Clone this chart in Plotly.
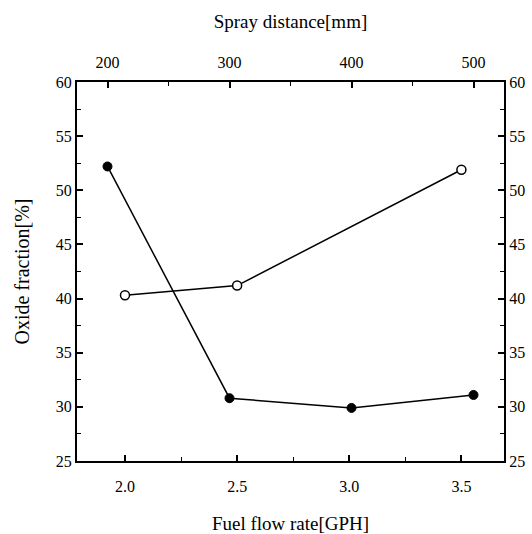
import plotly.graph_objects as go

# Data
spray_distance = [200, 300, 400, 500]          # mm (top axis)
oxide_vs_distance = [52.2, 30.8, 29.9, 31.1]   # filled circles
fuel_flow = [2.0, 2.5, 3.5]                    # GPH (bottom axis)
oxide_vs_flow = [40.3, 41.2, 51.9]             # open circles

y_ticks = [25, 30, 35, 40, 45, 50, 55, 60]
x_ticks = [2.0, 2.5, 3.0, 3.5]
x_ticklabels = ["2.0", "2.5", "3.0", "3.5"]
top_ticks = [200, 300, 400, 500]

FONT = "Liberation Serif"

fig = go.Figure()
fig.add_trace(go.Scatter(
    x=spray_distance, y=oxide_vs_distance, xaxis="x2", yaxis="y",
    mode="lines+markers",
    line=dict(color="black", width=1.5),
    marker=dict(symbol="circle", size=9, color="black", line=dict(color="black", width=1)),
    showlegend=False,
))
fig.add_trace(go.Scatter(
    x=fuel_flow, y=oxide_vs_flow, xaxis="x", yaxis="y",
    mode="lines+markers",
    line=dict(color="black", width=1.5),
    marker=dict(symbol="circle", size=9, color="white", line=dict(color="black", width=1.5)),
    showlegend=False,
))
# dummy trace to activate right axis
fig.add_trace(go.Scatter(x=[None], y=[None], xaxis="x", yaxis="y2", showlegend=False, hoverinfo="skip"))

common = dict(
    showgrid=False, zeroline=False, showline=True, linecolor="black", linewidth=2,
    ticks="inside", ticklen=6, tickwidth=1.5, tickcolor="black",
    tickfont=dict(family=FONT, size=16, color="black"),
)
minor_common = dict(ticks="inside", ticklen=4, tickcolor="black", tickwidth=1)

fig.update_layout(
    width=532, height=534,
    margin=dict(l=77, r=28, t=82, b=73, autoexpand=False),
    paper_bgcolor="white", plot_bgcolor="white",
    font=dict(family=FONT, color="black"),
    xaxis=dict(
        **common, range=[1.786, 3.69], tickvals=x_ticks, ticktext=x_ticklabels,
        ticklabelstandoff=10,
        minor=dict(dtick=0.25, **minor_common),
        title=dict(text="Fuel flow rate[GPH]", font=dict(family=FONT, size=19), standoff=22),
    ),
    xaxis2=dict(
        **common, range=[175, 525], tickvals=top_ticks, overlaying="x", side="top",
        ticklabelstandoff=6,
        minor=dict(dtick=50, **minor_common),
        title=dict(text="Spray distance[mm]", font=dict(family=FONT, size=19), standoff=20),
    ),
    yaxis=dict(
        **common, range=[25, 60], tickvals=y_ticks,
        minor=dict(dtick=2.5, **minor_common),
        title=dict(text="Oxide fraction[%]", font=dict(family=FONT, size=20), standoff=21),
    ),
    yaxis2=dict(
        **common, range=[25, 60], tickvals=y_ticks, overlaying="y", side="right",
        minor=dict(dtick=2.5, **minor_common),
    ),
)

fig.write_html("out.html", config={"displayModeBar": False},
               post_script="document.body.style.margin='0';")
